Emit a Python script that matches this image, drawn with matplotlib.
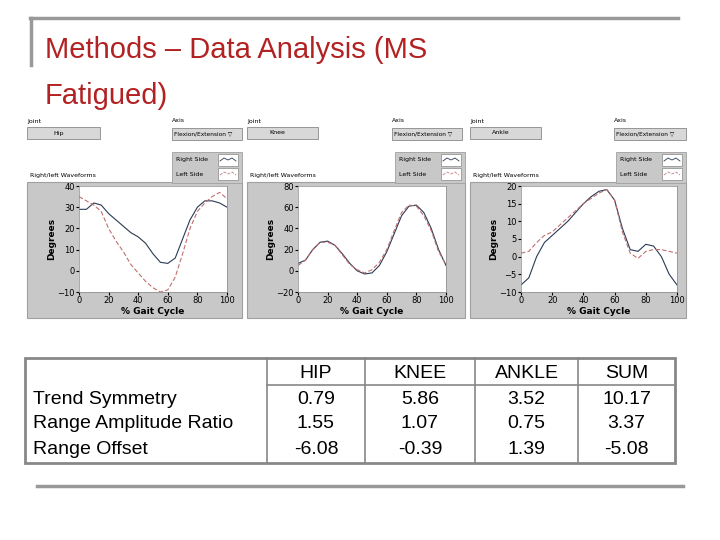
import matplotlib
matplotlib.use("Agg")
import matplotlib.pyplot as plt
from matplotlib.patches import Rectangle

x_pts = [0,5,10,15,20,25,30,35,40,45,50,55,60,65,70,75,80,85,90,95,100]
hip_right = [29,29,32,31,27,24,21,18,16,13,8,4,3.5,6,15,24,30,33,33,32,30]
hip_left = [35,33,31,28,20,14,9,3,-1,-5,-8,-10,-9,-3,8,20,28,32,35,37,34]
knee_right = [7,10,20,27,28,24,16,7,0,-3,-2,5,18,35,52,61,62,55,40,20,5]
knee_left = [5,10,20,27,27,24,15,6,1,-2,1,8,20,38,55,62,61,52,38,18,6]
ankle_right = [-8,-6,0,4,6,8,10,12.5,15,17,18.5,19,16,8,2,1.5,3.5,3,0,-5,-8]
ankle_left = [1,1.5,4,6,7,9,11,13,15,16.5,18,19,16,7,1,-0.5,1.5,2,2,1.5,1]

joints = ["Hip", "Knee", "Ankle"]
yticks = [[-10,0,10,20,30,40],[-20,0,20,40,60,80],[-10,-5,0,5,10,15,20]]
ylims = [(-10,40),(-20,80),(-10,20)]
series = [(hip_right,hip_left),(knee_right,knee_left),(ankle_right,ankle_left)]

col_headers = ["", "HIP", "KNEE", "ANKLE", "SUM"]
row_labels = ["Trend Symmetry", "Range Amplitude Ratio", "Range Offset"]
table_vals = [["0.79","5.86","3.52","10.17"],
              ["1.55","1.07","0.75","3.37"],
              ["-6.08","-0.39","1.39","-5.08"]]

W, H = 720, 540
fig = plt.figure(figsize=(7.2,5.4), dpi=100)
bg = fig.add_axes([0,0,1,1])
bg.set_xlim(0,W); bg.set_ylim(H,0); bg.axis("off")

# decorations
bg.plot([30,678],[18,18],color="#999999",lw=2.5)
bg.plot([31,31],[18,65],color="#999999",lw=2.5)
bg.plot([37,683],[486,486],color="#999999",lw=2.5)
bg.text(45,50,"Methods – Data Analysis (MS",color="#b22222",fontsize=21,
        va="center",ha="left",family="Liberation Sans")
bg.text(45,96,"Fatigued)",color="#b22222",fontsize=21,
        va="center",ha="left",family="Liberation Sans")

panels = [(27,242,79,227),(247,465,298,446),(470,686,521,677)]
drop = [(50,100,172,242),(247,318,392,462),(470,541,614,686)]
for i,(gx0,gx1,px0,px1) in enumerate(panels):
    bg.add_patch(Rectangle((gx0,182),gx1-gx0,136,fc="#c8c8c8",ec="#a0a0a0",lw=0.8))
    d0,d1,a0,a1 = drop[i]
    bg.text(gx0 if i else 27,121,"Joint",fontsize=4.5,va="center")
    bg.add_patch(Rectangle((d0 if i else 27,127),d1-(d0 if i else 27),12,fc="#d8d8d8",ec="#888888",lw=0.6))
    bg.text(((d0 if i else 27)+d1)/2-5,133,joints[i],fontsize=4.5,va="center",ha="center")
    bg.text(a0,121,"Axis",fontsize=4.5,va="center")
    bg.add_patch(Rectangle((a0,128),a1-a0,12,fc="#d8d8d8",ec="#888888",lw=0.6))
    bg.text(a0+2,134,"Flexion/Extension \u25bd",fontsize=4.2,va="center")
    lx0 = gx1-70
    bg.add_patch(Rectangle((lx0,152),70,31,fc="#c8c8c8",ec="#a0a0a0",lw=0.6))
    bg.text(lx0+4,160,"Right Side",fontsize=4.5,va="center")
    bg.text(lx0+4,174,"Left Side",fontsize=4.5,va="center")
    bg.add_patch(Rectangle((lx0+46,154),20,12,fc="white",ec="#888888",lw=0.5))
    bg.add_patch(Rectangle((lx0+46,168),20,12,fc="white",ec="#888888",lw=0.5))
    bg.plot([lx0+48,lx0+52,lx0+56,lx0+60,lx0+64],[161,158,160,158,161],color="#2b3a55",lw=0.6)
    bg.plot([lx0+48,lx0+52,lx0+56,lx0+60,lx0+64],[175,172,174,172,175],color="#c08080",lw=0.6,ls="--")
    bg.text(gx0+3,176,"Right/left Waveforms",fontsize=4.5,va="center")
    ax = fig.add_axes([px0/W,1-292/H,(px1-px0)/W,(292-186)/H])
    r,l = series[i]
    ax.plot(x_pts,r,color="#2b3a55",lw=0.8)
    ax.plot(x_pts,l,color="#c07070",lw=0.8,ls=(0,(4,2)))
    ax.set_xlim(0,100); ax.set_ylim(*ylims[i])
    ax.set_yticks(yticks[i]); ax.set_xticks([0,20,40,60,80,100])
    ax.tick_params(labelsize=6,length=2,pad=1)
    for s in ax.spines.values(): s.set_color("#888888"); s.set_linewidth(0.5)
    ax.set_xlabel("% Gait Cycle",fontsize=6.5,fontweight="bold",labelpad=1)
    ax.set_ylabel("Degrees",fontsize=6.5,fontweight="bold",labelpad=1)

cols = [25,267,365,475,578,675]
bg.add_patch(Rectangle((25,358),650,105,fc="none",ec="#888888",lw=2))
for c in cols[1:-1]:
    bg.plot([c,c],[358,463],color="#888888",lw=1.2)
bg.plot([267,675],[385,385],color="#888888",lw=1.2)
tf = dict(fontsize=14,family="Liberation Sans",va="center")
for j in range(1,5):
    bg.text((cols[j]+cols[j+1])/2,373,col_headers[j],ha="center",**tf)
for i in range(3):
    yc = [399,424,449][i]
    bg.text(33,yc,row_labels[i],ha="left",**tf)
    for j in range(4):
        bg.text((cols[j+1]+cols[j+2])/2,yc,table_vals[i][j],ha="center",**tf)

fig.savefig("out.png",dpi=100)
